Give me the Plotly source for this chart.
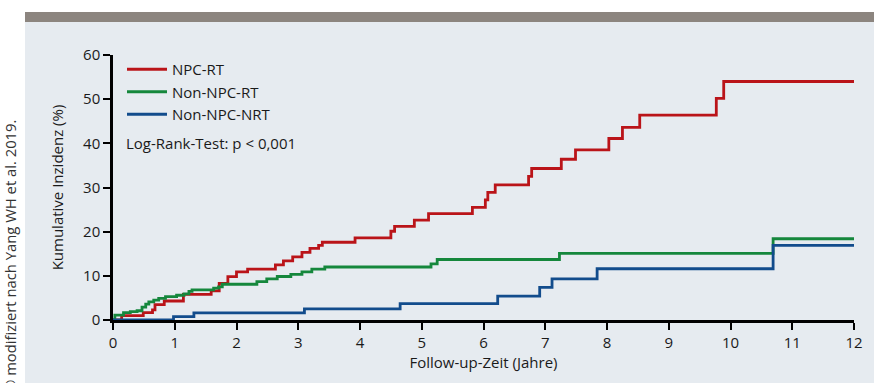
import plotly.graph_objects as go

# Data (years, cumulative incidence %)
npc_rt_t = [0, 0.14, 0.49, 0.64, 0.68, 0.83, 1.14, 1.59, 1.72, 1.86, 2.0, 2.18, 2.63, 2.76, 2.91, 3.06, 3.19, 3.33, 3.39,
            3.92, 4.5, 4.56, 4.88, 5.11, 5.82, 6.03, 6.07, 6.19, 6.73, 6.78, 7.26, 7.49, 8.03, 8.25, 8.53, 9.77, 9.89, 12]
npc_rt_v = [0, 1.0, 1.65, 2.3, 3.5, 4.3, 5.8, 6.6, 8.3, 9.8, 10.9, 11.5, 12.5, 13.4, 14.3, 15.3, 16.2, 16.9, 17.6,
            18.6, 20.1, 21.2, 22.6, 24.1, 25.5, 27.2, 28.9, 30.6, 32.5, 34.3, 36.4, 38.5, 41.1, 43.6, 46.4, 50.2, 54.0, 54.0]

non_npc_rt_t = [0, 0.03, 0.17, 0.28, 0.39, 0.47, 0.53, 0.58, 0.66, 0.74, 0.85, 1.03, 1.15, 1.23, 1.28, 1.63, 1.71, 1.77,
                2.33, 2.49, 2.66, 2.88, 3.06, 3.22, 3.43, 5.15, 5.25, 7.23, 10.69, 12]
non_npc_rt_v = [0, 1.1, 1.65, 1.9, 2.1, 2.9, 3.6, 4.1, 4.5, 4.9, 5.3, 5.6, 5.9, 6.5, 6.8, 7.2, 7.5, 8.1,
                8.7, 9.3, 9.85, 10.35, 10.9, 11.5, 12.0, 12.7, 13.7, 15.1, 18.4, 18.4]

non_npc_nrt_t = [0, 0.98, 1.31, 3.1, 4.65, 6.23, 6.91, 7.11, 7.84, 10.69, 12]
non_npc_nrt_v = [0, 0.75, 1.6, 2.5, 3.7, 5.4, 7.4, 9.3, 11.6, 16.9, 16.9]

series_names = ["NPC-RT", "Non-NPC-RT", "Non-NPC-NRT"]
x_ticks = list(range(0, 13))
y_ticks = [0, 10, 20, 30, 40, 50, 60]

colors = ["#BA1419", "#15873C", "#124C8C"]
FONT = "Open Sans"
FS = 15

fig = go.Figure()
for name, t, v, c in zip(series_names,
                         [npc_rt_t, non_npc_rt_t, non_npc_nrt_t],
                         [npc_rt_v, non_npc_rt_v, non_npc_nrt_v],
                         colors):
    fig.add_trace(go.Scatter(x=t, y=v, mode="lines", name=name,
                             line=dict(color=c, width=2.8, shape="hv")))

L, R, T, B = 113, 20, 55, 63
W, H = 874, 383
pw, ph = W - L - R, H - T - B

def px(x):
    return (x - L) / pw

def py(y):
    return (H - B - y) / ph

shapes = [
    dict(type="rect", xref="paper", yref="paper", x0=px(25), x1=px(880), y0=py(390), y1=py(22),
         fillcolor="#E6EBF0", line=dict(width=0), layer="below"),
    dict(type="rect", xref="paper", yref="paper", x0=px(25), x1=px(880), y0=py(22), y1=py(12),
         fillcolor="#8C857F", line=dict(width=0), layer="below"),
]

annotations = [
    dict(text="Log-Rank-Test: p < 0,001", xref="paper", yref="paper", x=px(124), y=py(143),
         xanchor="left", yanchor="middle", showarrow=False,
         font=dict(family=FONT, size=FS, color="#1a1a1a")),
    dict(text="© modifiziert nach Yang WH et al. 2019.", xref="paper", yref="paper", x=px(10), y=py(118),
         xanchor="center", yanchor="top", textangle=-90, showarrow=False,
         font=dict(family=FONT, size=14.8, color="#333333")),
]

fig.update_layout(
    width=W, height=H,
    margin=dict(l=L, r=R, t=T, b=B),
    paper_bgcolor="white",
    plot_bgcolor="rgba(0,0,0,0)",
    font=dict(family=FONT, size=FS, color="#1a1a1a"),
    shapes=shapes,
    annotations=annotations,
    showlegend=True,
    legend=dict(x=px(122), y=py(53), xanchor="left", yanchor="top",
                bgcolor="rgba(0,0,0,0)", font=dict(family=FONT, size=FS, color="#1a1a1a"),
                itemwidth=40, tracegroupgap=0),
    xaxis=dict(range=[0, 12], tickvals=x_ticks, ticktext=[str(v) for v in x_ticks],
               showgrid=False, zeroline=False, showline=True, linecolor="black", linewidth=2.5,
               ticks="outside", ticklen=7, tickwidth=2, tickcolor="black",
               tickfont=dict(size=FS),
               title=dict(text="Follow-up-Zeit (Jahre)", standoff=6, font=dict(size=FS))),
    yaxis=dict(range=[0, 60], tickvals=y_ticks, ticktext=[str(v) for v in y_ticks],
               showgrid=False, zeroline=False, showline=True, linecolor="black", linewidth=2.5,
               ticks="outside", ticklen=7, tickwidth=2, tickcolor="black",
               tickfont=dict(size=FS),
               title=dict(text="Kumulative Inzidenz (%)", standoff=16, font=dict(size=FS))),
)

fig.write_html("out.html", config={"displayModeBar": False},
               post_script="document.body.style.margin='0';document.body.style.overflow='hidden';")
